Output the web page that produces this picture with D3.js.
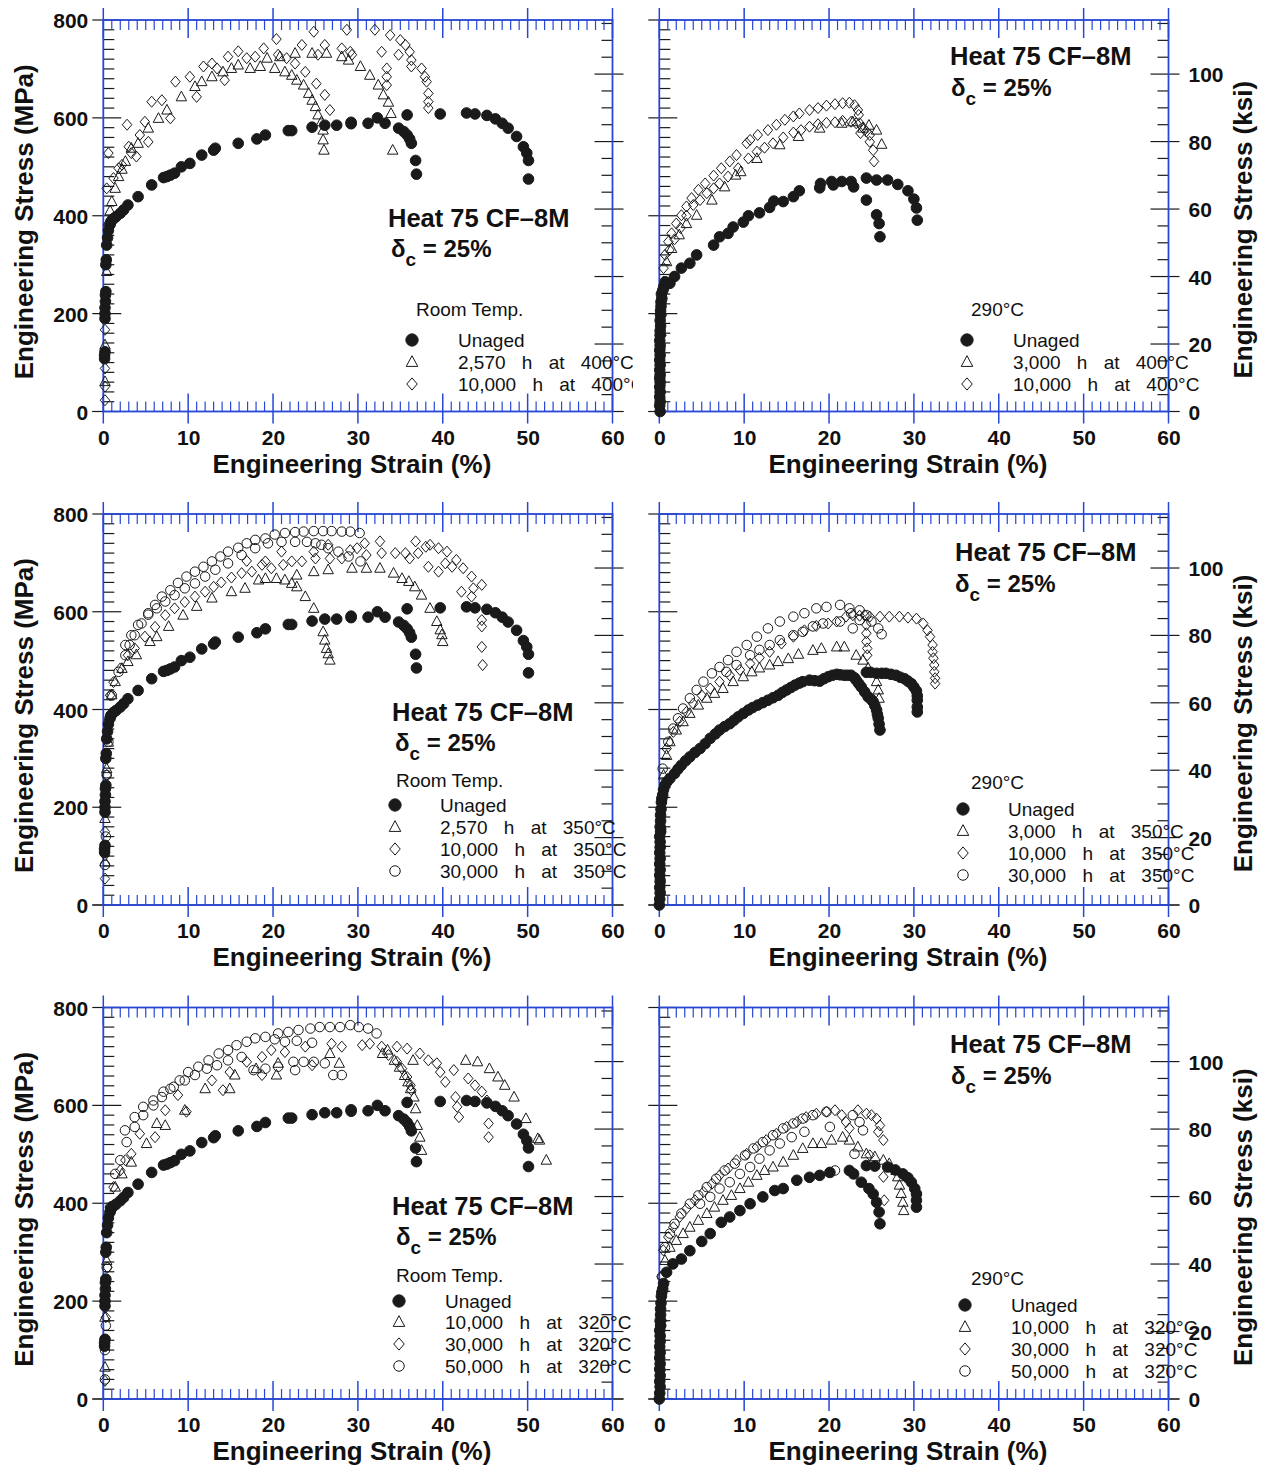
<!DOCTYPE html>
<html>
<head>
<meta charset="utf-8">
<script src="https://cdn.jsdelivr.net/npm/d3@7"></script>
<style>
  body { margin: 0; background: #fff; }
  svg { display: block; }
  text { font-family: "Liberation Sans", Arial, Helvetica, sans-serif; fill: #111; }
</style>
</head>
<body>
<svg id="chart" width="1268" height="1467"></svg>
<script>
// ---------------------------------------------------------------
// Tick values and labels
// ---------------------------------------------------------------
const strainTicks = [0, 10, 20, 30, 40, 50, 60];
const mpaTicks = [0, 200, 400, 600, 800];
const ksiTicks = [0, 20, 40, 60, 80, 100];
const MPA_PER_KSI = 6.894757;

const xTitle = "Engineering Strain (%)";
const yTitleMPa = "Engineering Stress (MPa)";
const yTitleKsi = "Engineering Stress (ksi)";
const alloyLabel = "Heat 75 CF\u20138M";
const ferriteLabel = ["\u03b4", "c", " = 25%"];

// ---------------------------------------------------------------
// Stress–strain data: [engineering strain %, engineering stress MPa]
// ---------------------------------------------------------------

// Room temperature, unaged (two specimens)
const rtUnaged = [
  [0.15,108],[0.15,115],[0.2,122],[0.2,190],[0.2,200],[0.2,212],[0.25,225],[0.25,238],[0.3,245],
  [0.3,300],[0.35,310],[0.4,340],[0.5,355],[0.6,370],[0.8,382],[0.9,388],[1.2,394],[1.5,398],
  [2.0,405],[2.4,412],[2.9,422],[4.1,439],[5.7,463],[7.1,478],[7.5,480],[7.9,483],[8.4,487],
  [9.2,500],[10.2,507],[11.6,524],[13.0,534],[13.2,538],[15.9,548],[18.1,557],[19.1,565],
  [21.8,574],[22.2,574],[24.6,581],[26.1,585],[27.5,585],[29.2,591],[29.2,588],[31.2,589],
  [32.3,600],[33.2,589],[34.8,579],[35.4,572],[35.8,565],[36.1,557],[36.3,548],[36.8,513],[36.9,485],
  [35.8,606],[39.7,608],[42.8,610],[43.8,608],[45.2,605],[46.2,598],[47.0,589],[47.7,579],
  [48.7,562],[49.5,541],[49.9,528],[50.1,513],[50.1,475]
];

// Room temperature, aged at 400 °C
const rt2570h400 = [
  [0.2,61],[0.2,136],[0.4,286],[0.6,388],[0.8,410],[1.0,429],[1.4,456],[1.8,480],[2.2,495],
  [2.6,511],[3.3,538],[4.1,548],[5.3,579],[6.5,599],[7.5,616],[9.2,643],[10.8,664],[11.6,674],
  [12.8,684],[14.1,694],[15.1,701],[15.9,708],[17.3,701],[18.5,705],[19.3,722],[20.2,701],
  [20.8,725],[21.4,694],[22.2,687],[22.6,732],[22.8,677],[23.6,667],[24.2,650],[24.6,636],
  [25.0,623],[25.3,606],[25.7,592],[25.9,575],[25.9,555],[26.0,534],
  [24.6,732],[26.3,732],[28.1,725],[28.9,718],[30.3,705],[31.4,687],[32.4,667],[33.0,647],
  [33.6,632],[33.9,609],[34.1,534]
];
const rt10000h400 = [
  [0.2,23],[0.2,51],[0.2,88],[0.2,167],[0.4,456],[0.6,528],[1.2,477],[1.8,497],[2.2,504],
  [2.8,586],[3.0,541],[3.3,528],[3.9,521],[4.3,565],[4.9,592],[5.3,551],[5.7,633],[6.9,636],
  [7.9,599],[8.5,674],[10.2,684],[11.0,643],[11.8,705],[12.8,711],[13.4,701],[14.3,677],
  [14.7,725],[15.9,736],[16.9,722],[17.9,725],[18.9,742],[20.4,761],[20.6,729],[21.6,722],
  [22.6,711],[23.4,749],[23.8,694],[24.8,776],[25.1,670],[25.3,729],[26.1,749],[26.1,647],
  [26.7,616],[28.1,742],[28.7,780],[29.1,735],[29.3,729],
  [32.0,780],[32.8,735],[33.4,701],[33.4,684],[33.4,667],[33.8,769],[34.8,729],[35.0,759],
  [35.6,749],[36.1,735],[36.3,718],[36.3,705],[37.5,701],[37.9,684],[38.1,674],[38.3,650],
  [38.3,633],[38.3,620]
];

// 290 °C, unaged (two specimens) – sparse record
const t290Unaged = [
  [0.1,0],[0.05,12],[0.1,20],[0.05,30],[0.1,40],[0.05,50],[0.1,60],[0.05,68],[0.1,75],[0.05,85],
  [0.1,95],[0.05,105],[0.1,115],[0.05,125],[0.1,135],[0.05,145],[0.1,156],[0.1,165],[0.15,175],
  [0.1,186],[0.15,197],[0.15,206],[0.2,215],[0.2,224],[0.3,231],[0.25,240],[0.4,247],[0.5,252],
  [0.7,265],[1.25,262],[1.8,276],[2.6,293],[3.6,303],[4.4,320],[6.4,340],[7.1,357],[8.1,364],
  [8.7,377],[9.9,387],[10.5,400],[11.8,406],[13.0,417],[13.5,430],[14.6,429],[15.8,439],
  [16.5,451],[18.9,457],[19.0,466],[20.3,470],[20.5,463],[21.5,470],[22.6,470],[22.9,459],
  [24.4,432],[25.6,402],[25.9,384],[26.0,357],
  [24.4,477],[25.6,473],[26.9,473],[28.1,464],[29.3,451],[30.0,434],[30.3,416],[30.4,391]
];
// 290 °C, unaged – dense record
const t290UnagedDense = [
  [0.0,0],[0.05,12],[0.1,25],[0.05,36],[0.1,48],[0.05,61],[0.1,72],[0.05,84],[0.1,95],[0.05,107],
  [0.1,118],[0.1,129],[0.05,140],[0.15,150],[0.1,160],[0.15,172],[0.15,184],[0.2,196],[0.25,210],
  [0.3,218],[0.4,225],[0.5,236],[0.67,245],[0.9,252],[1.25,259],[1.8,269],[2.2,278],[2.6,286],
  [3.1,295],[3.6,303],[4.2,312],[4.8,320],[5.4,330],[6.0,341],[6.6,350],[7.1,358],[7.7,365],
  [8.3,371],[8.8,378],[9.3,385],[9.9,392],[10.5,399],[11.0,404],[11.6,409],[12.2,414],[12.8,419],
  [13.4,424],[14.0,429],[14.5,435],[15.0,440],[15.5,445],[16.0,450],[16.5,454],[16.9,457],
  [17.7,460],[18.3,459],[18.9,458],[19.4,463],[19.9,467],[20.4,470],[20.9,472],[21.3,471],
  [21.8,470],[22.2,470],[22.6,470],[23.0,465],[23.2,460],[23.5,453],[23.8,446],[24.2,436],
  [24.6,426],[25.0,420],[25.2,416],[25.4,408],[25.6,399],[25.7,390],[25.8,382],[25.9,370],[26.0,358],
  [24.4,476],[24.9,476],[25.6,474],[26.2,474],[26.7,474],[27.3,472],[27.9,470],[28.4,466],
  [28.9,463],[29.3,458],[29.7,453],[30.0,446],[30.3,438],[30.4,428],[30.4,419],[30.4,405],[30.4,395]
];
// 290 °C, unaged – record plotted with the 320 °C series
const t290UnagedC = [
  [0.0,0],[0.05,12],[0.1,25],[0.05,36],[0.1,48],[0.05,61],[0.1,72],[0.05,84],[0.1,95],[0.05,107],
  [0.1,118],[0.1,129],[0.05,140],[0.15,150],[0.1,160],[0.15,172],[0.15,184],[0.2,196],[0.25,210],
  [0.3,218],[0.4,225],[0.5,236],[0.86,259],[1.6,276],[2.6,286],[3.6,303],[5.0,322],[6.0,338],
  [7.3,361],[8.3,372],[9.5,385],[10.7,399],[12.2,413],[13.6,426],[14.6,430],[16.2,447],
  [17.7,453],[18.9,457],[20.1,463],
  [22.4,467],[22.9,460],[23.8,443],[24.7,430],[25.2,419],[25.6,402],[25.9,382],[26.0,358],
  [24.4,477],[25.4,476],[26.9,474],[27.8,468],[28.7,460],[29.3,452],[29.7,443],[30.1,430],
  [30.3,419],[30.3,406],[30.3,392]
];

// 290 °C, aged at 400 °C
const t290_3000h400 = [
  [0.1,61],[0.2,163],[0.5,265],[0.86,306],[1.45,333],[2.35,361],[3.2,384],[4.4,401],[6.2,432],
  [7.7,459],[9.0,483],[9.6,490],[11.5,517],[14.2,545],[16.4,562],[18.9,579],[21.5,589],
  [22.8,592],[24.0,579],[24.7,585],[25.6,575],[26.2,546]
];
const t290_10000h400 = [
  [0.1,27],[0.1,75],[0.15,129],[0.3,197],[0.4,245],[0.5,293],[0.67,320],[1.06,347],[1.45,364],
  [2.0,384],[2.6,401],[3.2,419],[3.8,436],[4.6,453],[5.4,466],[6.4,482],[7.3,497],[8.3,511],
  [9.1,524],[10.3,548],[10.7,555],[11.6,565],[12.8,575],[13.8,586],[14.8,596],[15.8,603],
  [16.5,609],[17.7,616],[18.7,620],[19.7,625],[20.7,628],[21.6,630],[22.4,631],[23.0,626],
  [23.4,616],[23.5,606],[23.6,589],[23.7,569],[24.8,551],[25.2,534],[25.3,511],
  [1.2,330],[1.8,352],[2.5,375],[3.2,400],[4.0,422],[4.8,432],[5.6,446],[6.4,456],[7.1,466],
  [8.1,480],[9.3,497],[10.5,517],[11.5,531],[12.4,539],[13.4,548],[14.6,560],[15.8,570],
  [16.7,575],[17.7,582],[18.7,587],[19.7,590],[20.7,591],[21.6,594],[22.6,592],[23.2,589],
  [24.0,580],[24.4,572],[24.8,565]
];

// Room temperature, aged at 350 °C
const rt2570h350 = [
  [0.2,88],[0.2,177],[0.4,279],[0.6,333],[1.0,430],[1.4,457],[2.2,484],[2.9,498],[3.9,512],
  [5.5,539],[6.3,549],[7.7,570],[9.4,593],[11.0,611],[12.8,628],[15.1,641],[16.7,648],
  [18.3,665],[19.1,668],[20.4,668],[21.4,665],[22.2,658],[22.8,651],[23.8,631],[24.8,607],
  [25.9,559],[26.1,542],[26.3,525],[26.5,514],[26.7,501],
  [22.8,675],[24.8,682],[26.5,686],[29.3,689],[31.0,689],[32.6,689],[34.2,679],[35.2,668],
  [36.0,662],[36.7,651],[37.5,634],[38.5,607],[39.3,580],[39.7,563],[39.9,553],[40.0,539]
];
const rt10000h350 = [
  [0.2,54],[0.2,102],[0.2,150],[0.4,266],[0.8,429],[1.2,456],[2.0,484],[2.9,511],[3.7,525],
  [4.9,549],[6.1,569],[7.3,593],[8.4,607],[9.6,620],[10.8,631],[12.0,641],[13.0,651],[13.9,660],
  [15.1,670],[16.3,679],[16.9,704],[17.5,682],[18.7,696],[19.1,703],[19.8,689],[21.0,723],
  [21.2,696],[22.2,703],[23.4,703],[24.8,723],[25.0,709],[26.5,737],[26.7,709],[28.1,709],
  [29.1,726],[29.9,730],[30.8,740],[31.0,716],[32.6,744],[32.8,720],[34.4,720],[35.6,720],
  [36.1,709],[37.1,720],
  [36.8,744],[38.0,733],[38.5,737],[39.5,730],[40.5,723],[38.3,692],[39.5,682],[40.3,699],
  [41.1,692],[41.6,706],[42.4,689],[43.4,672],[44.6,655],[42.2,641],[43.4,631],[43.6,648],
  [44.6,583],[44.6,570],[44.6,528],[44.7,491]
];
const rt30000h350 = [
  [0.2,82],[0.3,140],[0.4,266],[0.6,334],[1.0,429],[1.8,477],[2.6,511],[3.1,532],[3.7,552],
  [4.5,576],[5.3,597],[6.1,614],[6.9,631],[7.9,644],[8.8,659],[9.8,672],[10.8,682],[11.8,692],
  [12.8,703],[13.8,713],[14.7,723],[15.9,731],[16.9,740],[17.9,747],[19.1,750],[20.2,758],
  [21.4,761],[22.6,763],[23.6,764],[24.8,765],[25.9,765],[26.9,765],[28.1,764],[29.1,764],[30.2,761],
  [2.6,532],[3.3,552],[4.1,573],[5.3,594],[6.3,607],[7.3,621],[8.4,634],[9.6,648],[10.8,658],
  [12.0,672],[13.2,686],[14.7,699],[16.3,716],[17.9,730],[19.4,740],[21.0,743],[22.6,743],
  [24.0,743],[25.0,740],[25.7,737],[26.5,730],[27.7,723],[28.9,713],[30.3,703]
];

// 290 °C, aged at 350 °C
const t290_3000h350 = [
  [0.1,61],[0.2,163],[0.5,266],[0.86,306],[1.25,334],[2.0,358],[2.8,375],[3.6,392],[4.6,409],
  [5.6,423],[6.5,433],[7.5,443],[8.7,457],[9.9,467],[10.9,477],[11.8,485],[13.0,491],[14.0,498],
  [15.2,504],[16.4,513],[18.1,521],[19.1,525],[20.9,528],[21.8,528],[23.2,511],[24.0,501],
  [24.6,485],[25.6,457],[25.8,440],[25.9,423]
];
const t290_10000h350 = [
  [0.1,30],[0.2,120],[0.3,220],[0.86,320],[1.65,354],[2.4,375],[3.2,395],[4.0,412],[5.0,429],
  [6.0,443],[7.1,457],[8.3,470],[9.5,481],[10.7,494],[11.8,506],[13.0,518],[14.4,535],[15.8,549],
  [17.1,562],[18.5,571],[19.9,576],[20.9,580],[22.0,590],[22.8,593],[23.6,592],[24.8,590],
  [26.0,590],[27.1,590],[28.3,590],[29.3,588],[30.3,586],[31.1,576],[31.6,562],[31.9,549],
  [32.2,532],[32.2,518],[32.3,505],[32.4,491],[32.4,477],[32.5,464],[32.5,453],
  [24.2,593],[24.4,573],[24.4,556],[24.4,539],[24.5,525],[24.5,511]
];
const t290_30000h350 = [
  [0.1,40],[0.2,150],[0.4,279],[1.06,334],[1.65,361],[2.2,382],[2.8,402],[3.6,423],[4.4,440],
  [5.2,457],[6.2,474],[7.1,487],[8.1,501],[9.1,518],[10.3,532],[11.5,549],[12.8,566],[14.2,580],
  [15.8,590],[17.1,597],[18.5,607],[19.7,610],[21.3,614],[22.4,607],[23.6,603],[24.4,593],
  [25.0,580],[25.8,566],[26.2,554],
  [7.9,477],[9.1,491],[10.7,511],[11.8,522],[13.0,532],[14.2,542],[15.8,552],[16.9,559],
  [18.1,570],[19.3,576],[21.3,580],[22.6,597],[22.8,566],[23.6,583]
];

// Room temperature, aged at 320 °C
const rt10000h320 = [
  [0.2,65],[0.2,167],[0.4,283],[0.8,392],[1.4,433],[2.2,460],[3.3,484],[5.1,522],[6.3,563],
  [7.3,559],[9.6,590],[12.0,634],[14.9,634],[15.5,662],[18.0,675],[20.4,662],[20.6,686],
  [26.7,706],[27.8,686],
  [32.9,706],[33.5,713],[34.3,692],[34.9,678],[35.5,661],[35.9,648],[36.2,634],[36.5,692],
  [36.6,617],[36.8,593],[37.0,559],[37.3,535],[37.5,508],
  [42.7,692],[44.1,689],[45.5,675],[46.5,658],[47.3,641],[48.4,617],[49.8,573],[51.2,532],
  [51.4,529],[52.2,488]
];
const rt30000h320 = [
  [0.2,37],[0.2,113],[0.3,167],[0.5,269],[0.8,392],[1.2,433],[2.0,467],[2.6,488],[3.3,501],
  [4.3,542],[6.1,535],[7.3,590],[8.8,621],[9.8,587],[12.8,651],[14.1,631],[14.9,668],[16.9,689],
  [18.7,699],[18.7,662],[19.8,713],[21.4,709],[23.8,720],[24.6,682],[26.9,726],[28.1,720],
  [30.5,723],[31.4,726],[32.8,720],[33.6,703],[34.6,720],[35.8,716],[34.6,689],[35.2,675],
  [35.8,658],[36.2,641],[36.3,631],[37.3,706],[38.3,692],[39.3,686],[39.7,668],[40.3,648],
  [41.3,672],[41.5,617],[41.7,597],[41.9,576],[43.0,655],[43.8,641],[44.6,628],[45.2,610],
  [45.4,563],[45.4,535]
];
const rt50000h320 = [
  [0.2,40],[0.2,100],[0.3,150],[0.4,269],[0.8,392],[1.4,460],[2.0,488],[2.75,525],[3.7,556],
  [4.7,580],[5.9,600],[6.9,617],[7.9,634],[9.0,651],[10.0,668],[11.2,679],[12.4,692],[13.6,706],
  [14.7,713],[15.7,723],[16.9,730],[17.9,737],[19.1,740],[20.6,747],[21.8,750],[23.0,754],
  [24.4,757],[25.5,760],[26.7,760],[27.9,760],[29.1,764],[30.1,760],[31.2,757],[32.2,747],
  [2.55,549],[3.7,576],[4.7,597],[5.9,610],[7.1,628],[8.3,638],[9.6,651],[10.8,662],[12.2,675],
  [13.4,682],[14.7,692],[16.3,699],[17.7,672],[19.1,675],[20.6,679],[22.4,689],[22.6,672],
  [23.6,689],[24.8,689],[26.1,686],[27.1,662],[28.1,662],
  [20.2,735],[21.4,730],[22.8,732],[24.6,728]
];

// 290 °C, aged at 320 °C
const t290_10000h320 = [
  [0.1,65],[0.27,167],[0.67,283],[1.25,310],[2.0,324],[2.8,338],[3.6,351],[4.6,365],[5.6,379],
  [6.5,392],[7.5,406],[8.5,416],[9.5,430],[10.5,443],[11.5,457],[12.4,467],[13.4,474],[14.6,484],
  [15.8,498],[16.9,512],[18.1,522],[19.1,522],[20.3,529],[21.6,535],[22.4,529],[23.4,515],
  [24.4,501],[25.4,495],[26.4,488],[27.1,481],[27.9,467],[28.1,454],[28.3,437],[28.5,420],
  [28.7,402],[28.8,385]
];
const t290_30000h320 = [
  [0.1,40],[0.2,160],[0.3,250],[0.47,304],[1.06,331],[1.65,351],[2.4,372],[3.2,389],[4.2,406],
  [5.2,423],[6.2,440],[7.1,457],[8.1,471],[9.1,488],[10.3,501],[11.5,515],[12.6,529],[13.8,542],
  [15.0,556],[16.2,566],[17.3,576],[18.5,583],[19.7,587],[20.7,590],[21.5,580],[22.0,566],
  [22.4,553],[23.4,590],[24.4,583],[25.0,580],[25.6,573],[26.0,559],[25.8,546],[26.4,529],
  [24.8,498],[26.4,454],[26.5,406]
];
const t290_50000h320 = [
  [0.1,40],[0.2,150],[0.3,250],[0.67,310],[1.25,338],[1.8,358],[2.6,379],[3.6,399],[4.6,416],
  [5.6,433],[6.7,450],[7.7,467],[8.9,481],[10.1,498],[11.1,512],[12.2,525],[13.4,539],[14.6,553],
  [15.8,563],[16.9,573],[18.1,580],[19.7,587],
  [4.8,399],[6.0,413],[7.1,430],[8.3,443],[9.5,460],[10.7,474],[11.8,491],[13.0,508],[14.2,522],
  [15.6,535],[17.1,546],[20.1,556],[22.8,580],[23.6,566],[24.0,549],[23.0,501],[20.7,467]
];

// Legend texts
const legendRT400 = ["Unaged", "2,570 h at 400\u00b0C", "10,000 h at 400\u00b0C"];
const legend290_400 = ["Unaged", "3,000 h at 400\u00b0C", "10,000 h at 400\u00b0C"];
const legendRT350 = ["Unaged", "2,570 h at 350\u00b0C", "10,000 h at 350\u00b0C", "30,000 h at 350\u00b0C"];
const legend290_350 = ["Unaged", "3,000 h at 350\u00b0C", "10,000 h at 350\u00b0C", "30,000 h at 350\u00b0C"];
const legendRT320 = ["Unaged", "10,000 h at 320\u00b0C", "30,000 h at 320\u00b0C", "50,000 h at 320\u00b0C"];
const legend290_320 = ["Unaged", "10,000 h at 320\u00b0C", "30,000 h at 320\u00b0C", "50,000 h at 320\u00b0C"];
const testRT = "Room Temp.";
const test290 = "290\u00b0C";

const markerKinds = ["dot", "triangle", "diamond", "ring"];

// ---------------------------------------------------------------
// Panel layout
// ---------------------------------------------------------------
const LEFT_X = [103.3, 612.5];
const RIGHT_X = [659.3, 1168.5];
const ROWS = [[411.5, 20], [905, 514], [1399, 1007.5]];

const panels = [
  { side: "left", xr: LEFT_X, yr: ROWS[0], test: testRT, labels: legendRT400,
    series: [rtUnaged, rt2570h400, rt10000h400],
    heat: [388, 227], delta: [391, 257], testPos: [416, 316], symX: 412, txtX: 458, rowY: [340, 362, 384] },
  { side: "right", xr: RIGHT_X, yr: ROWS[0], test: test290, labels: legend290_400,
    series: [t290Unaged, t290_3000h400, t290_10000h400],
    heat: [950, 65], delta: [951, 96], testPos: [971, 316], symX: 967, txtX: 1013, rowY: [340, 362, 384] },
  { side: "left", xr: LEFT_X, yr: ROWS[1], test: testRT, labels: legendRT350,
    series: [rtUnaged, rt2570h350, rt10000h350, rt30000h350],
    heat: [392, 721], delta: [395, 751], testPos: [396, 787], symX: 395, txtX: 440, rowY: [805, 827, 849, 871] },
  { side: "right", xr: RIGHT_X, yr: ROWS[1], test: test290, labels: legend290_350,
    series: [t290UnagedDense, t290_3000h350, t290_10000h350, t290_30000h350],
    heat: [955, 561], delta: [955, 592], testPos: [971, 789], symX: 963, txtX: 1008, rowY: [809, 831, 853, 875] },
  { side: "left", xr: LEFT_X, yr: ROWS[2], test: testRT, labels: legendRT320,
    series: [rtUnaged, rt10000h320, rt30000h320, rt50000h320],
    heat: [392, 1215], delta: [396, 1245], testPos: [396, 1282], symX: 399, txtX: 445, rowY: [1301, 1322, 1344, 1366] },
  { side: "right", xr: RIGHT_X, yr: ROWS[2], test: test290, labels: legend290_320,
    series: [t290UnagedC, t290_10000h320, t290_30000h320, t290_50000h320],
    heat: [950, 1053], delta: [951, 1084], testPos: [971, 1285], symX: 965, txtX: 1011, rowY: [1305, 1327, 1349, 1371] }
];

// ---------------------------------------------------------------
// Drawing
// ---------------------------------------------------------------
const BLUE = "#2747d6";
const INK = "#1a1a1a";
const svg = d3.select("#chart");

const defs = svg.append("defs");
defs.append("clipPath").attr("id", "leftClip")
  .append("rect").attr("x", 0).attr("y", 0).attr("width", 633).attr("height", 1467);

function shapePath(kind, s) {
  if (kind === "triangle") {
    return `M0,${-s * 0.6}L${s * 0.55},${s * 0.42}L${-s * 0.55},${s * 0.42}Z`;
  }
  return `M0,${-s * 0.58}L${s * 0.5},0L0,${s * 0.58}L${-s * 0.5},0Z`;
}

function drawMarks(g, kind, pts, x, y, size) {
  const sel = g.append("g");
  if (kind === "dot" || kind === "ring") {
    sel.selectAll("circle").data(pts).join("circle")
      .attr("cx", d => x(d[0])).attr("cy", d => y(d[1]))
      .attr("r", kind === "dot" ? size * 0.56 : size * 0.5)
      .attr("fill", kind === "dot" ? INK : "none")
      .attr("stroke", INK).attr("stroke-width", 1);
  } else {
    sel.selectAll("path").data(pts).join("path")
      .attr("transform", d => `translate(${x(d[0])},${y(d[1])})`)
      .attr("d", shapePath(kind, size))
      .attr("fill", "none").attr("stroke", INK).attr("stroke-width", 1);
  }
}

function vline(g, xx, y1, y2, color, w) {
  g.append("line").attr("x1", xx).attr("x2", xx).attr("y1", y1).attr("y2", y2)
    .attr("stroke", color).attr("stroke-width", w);
}
function hline(g, yy, x1, x2, color, w) {
  g.append("line").attr("x1", x1).attr("x2", x2).attr("y1", yy).attr("y2", yy)
    .attr("stroke", color).attr("stroke-width", w);
}

panels.forEach(p => {
  const g = svg.append("g");
  if (p.side === "left") g.attr("clip-path", "url(#leftClip)");

  const x = d3.scaleLinear().domain([0, 60]).range(p.xr);
  const y = d3.scaleLinear().domain([0, 800]).range(p.yr);
  const yKsi = d3.scaleLinear().domain([0, 800 / MPA_PER_KSI]).range(p.yr);
  const xL = x(0), xR = x(60), yB = y(0), yT = y(800);

  // black stress ticks: MPa along the left edge, ksi along the right edge
  const ticks = g.append("g");
  hline(ticks, yB, xL - 11, xR + 11, INK, 1.2);
  d3.range(0, 801, 20).forEach(v => {
    const major = v % 200 === 0;
    hline(ticks, y(v), major ? xL - 11 : xL, major ? xL + 18 : xL + 11, INK, 1.2);
  });
  d3.range(0, 800 / MPA_PER_KSI, 5).forEach(v => {
    const major = v % 20 === 0;
    hline(ticks, yKsi(v), major ? xR - 18 : xR - 11, major ? xR + 11 : xR, INK, 1.2);
  });

  // blue strain frame with minor (1 %) and major (10 %) ticks
  const frame = g.append("g");
  frame.append("rect").attr("x", xL).attr("y", yT).attr("width", xR - xL).attr("height", yB - yT)
    .attr("fill", "none").attr("stroke", BLUE).attr("stroke-width", 1.8);
  d3.range(0, 61, 1).forEach(v => {
    const major = v % 10 === 0;
    const xx = x(v);
    if (major) {
      vline(frame, xx, yT - 12, yT + 18, BLUE, 1.5);
      vline(frame, xx, yB - 18, yB + 12, BLUE, 1.5);
    } else {
      vline(frame, xx, yT, yT + 10, BLUE, 1.2);
      vline(frame, xx, yB - 10, yB, BLUE, 1.2);
    }
  });

  // strain tick labels
  const xAxis = d3.axisBottom(x).tickValues(strainTicks).tickSize(0).tickPadding(0).tickFormat(d3.format("d"));
  const xg = g.append("g").attr("transform", `translate(0,${yB + 33})`).call(xAxis);
  xg.select(".domain").remove();
  xg.selectAll("text").attr("dy", 0).attr("fill", INK)
    .style("font-size", "21px").style("font-weight", "bold");

  // strain title
  g.append("text").attr("x", (xL + xR) / 2 - 6).attr("y", yB + 61)
    .attr("text-anchor", "middle").style("font-size", "26px").style("font-weight", "bold")
    .text(xTitle);

  if (p.side === "left") {
    const yAxis = d3.axisLeft(y).tickValues(mpaTicks).tickSize(0).tickPadding(0).tickFormat(d3.format("d"));
    const yg = g.append("g").attr("transform", `translate(${xL - 15},0)`).call(yAxis);
    yg.select(".domain").remove();
    yg.selectAll("text").attr("dy", "0.36em").attr("fill", INK)
      .style("font-size", "21px").style("font-weight", "bold");
    g.append("text")
      .attr("transform", `translate(33,${(yB + yT) / 2 + 6}) rotate(-90)`)
      .attr("text-anchor", "middle").style("font-size", "26px").style("font-weight", "bold")
      .text(yTitleMPa);
  } else {
    const kAxis = d3.axisRight(yKsi).tickValues(ksiTicks).tickSize(0).tickPadding(0).tickFormat(d3.format("d"));
    const kg = g.append("g").attr("transform", `translate(${xR + 20},0)`).call(kAxis);
    kg.select(".domain").remove();
    kg.selectAll("text").attr("dy", "0.36em").attr("fill", INK)
      .style("font-size", "21px").style("font-weight", "bold");
    g.append("text")
      .attr("transform", `translate(1252,${(yB + yT) / 2 + 14}) rotate(-90)`)
      .attr("text-anchor", "middle").style("font-size", "26px").style("font-weight", "bold")
      .text(yTitleKsi);
  }

  // data points
  const marks = g.append("g");
  p.series.forEach((pts, i) => drawMarks(marks, markerKinds[i], pts, x, y, 9.5));

  // alloy and ferrite content annotation
  g.append("text").attr("x", p.heat[0]).attr("y", p.heat[1])
    .style("font-size", "25.5px").style("font-weight", "bold").text(alloyLabel);
  const dl = g.append("text").attr("x", p.delta[0]).attr("y", p.delta[1])
    .style("font-size", "24px").style("font-weight", "bold");
  dl.append("tspan").text(ferriteLabel[0]);
  dl.append("tspan").attr("dy", 9).style("font-size", "19px").text(ferriteLabel[1]);
  dl.append("tspan").attr("dy", -9).attr("xml:space", "preserve").style("white-space", "pre").text(ferriteLabel[2]);

  // legend
  g.append("text").attr("x", p.testPos[0]).attr("y", p.testPos[1])
    .style("font-size", "19px").text(p.test);
  p.labels.forEach((lab, i) => {
    const cy = p.rowY[i];
    const kind = markerKinds[i];
    const lg = g.append("g");
    const sx = d3.scaleLinear().domain([0, 1]).range([p.symX, p.symX + 1]);
    const sy = d3.scaleLinear().domain([0, 1]).range([cy, cy + 1]);
    drawMarks(lg, kind, [[0, 0]], sx, sy, kind === "dot" ? 11 : 10.5);
    g.append("text").attr("x", p.txtX).attr("y", cy + 7)
      .style("font-size", "19px").style("word-spacing", "11px").text(lab);
  });
});
</script>
</body>
</html>
